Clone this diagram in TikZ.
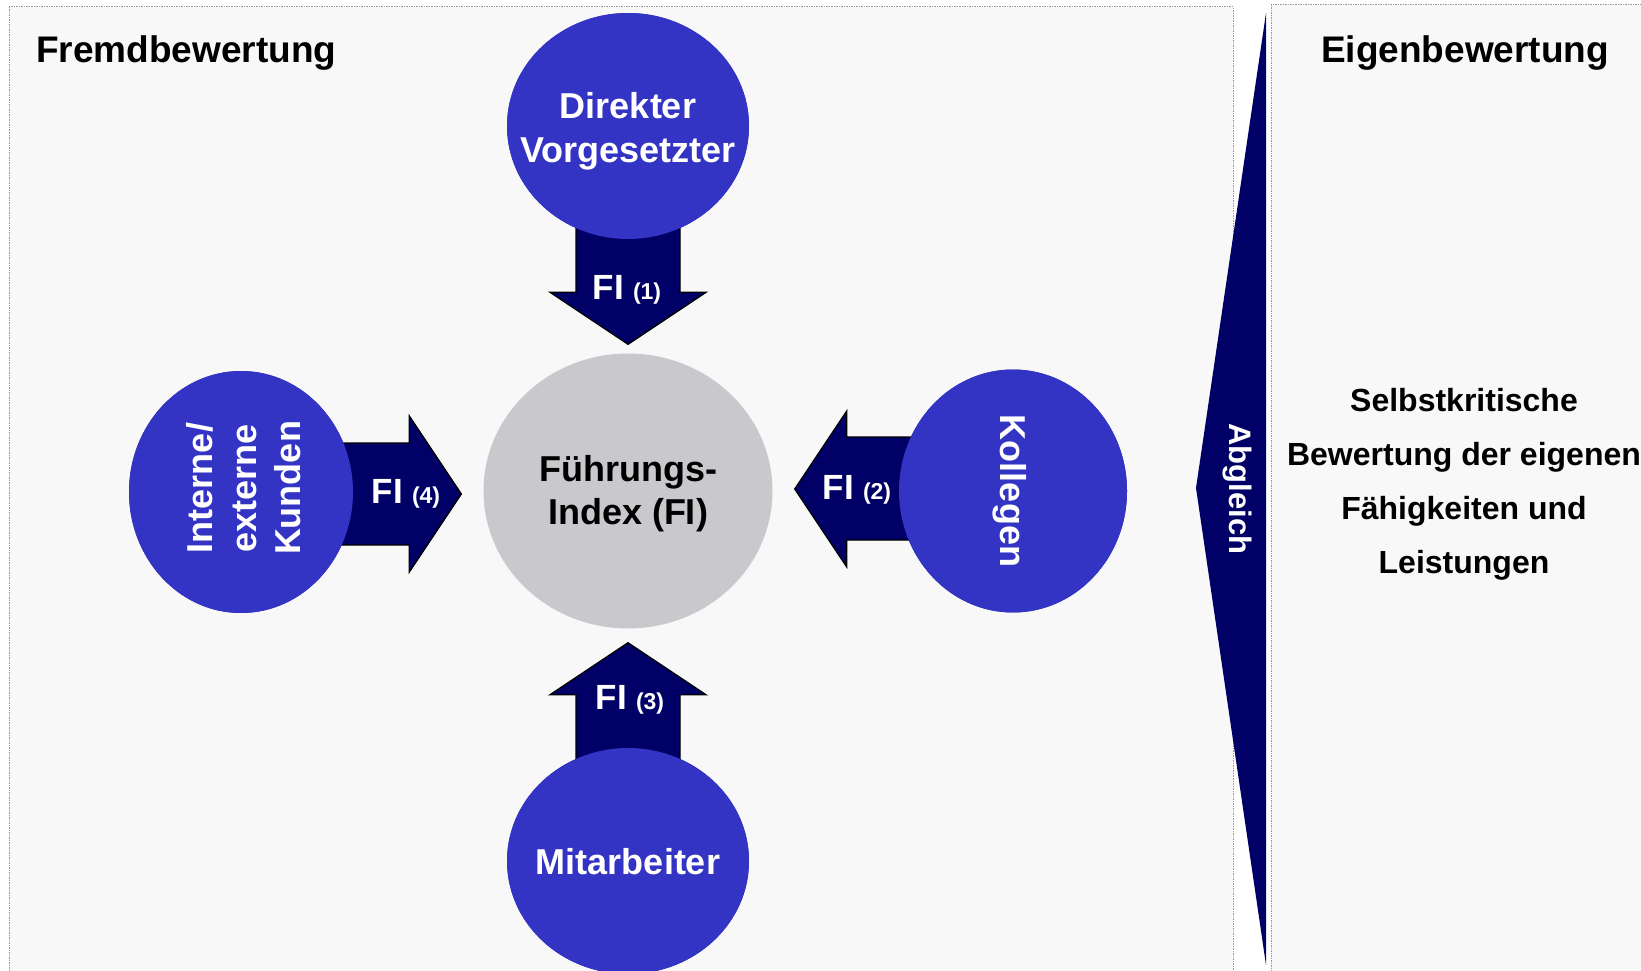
\documentclass[tikz,border=0pt]{standalone}
\usepackage{fontspec}
\setmainfont{Liberation Sans}
\usetikzlibrary{shapes.geometric,calc}
\definecolor{bgbox}{HTML}{F8F8F8}
\definecolor{circblue}{HTML}{3333C4}
\definecolor{navyblue}{HTML}{000066}
\definecolor{figray}{HTML}{C9C9CD}
\definecolor{boxline}{HTML}{9A9A9A}
\newcommand{\filab}[1]{{\fontsize{35}{40}\selectfont FI\hspace{9pt}}{\fontsize{23}{26}\selectfont (#1)}}
\begin{document}
\begin{tikzpicture}[x=1pt,y=-1pt,
  panel/.style={fill=bgbox, draw=boxline, line width=1pt, dash pattern=on 1.5pt off 1pt},
  srcnode/.style={ellipse, fill=circblue, draw=none, inner sep=0pt},
  centnode/.style={ellipse, fill=figray, draw=none, inner sep=0pt},
  srctext/.style={text=white, font=\bfseries\fontsize{36}{44}\selectfont, align=center, inner sep=0pt},
  centtext/.style={text=black, font=\bfseries\fontsize{36}{43}\selectfont, align=center, inner sep=0pt},
  blockarrow/.style={fill=navyblue, draw=black, line width=1.3pt, line join=miter},
  filabel/.style={text=white, font=\bfseries, inner sep=0pt, anchor=base},
  titletext/.style={text=black, font=\bfseries\fontsize{37}{44}\selectfont, inner sep=0pt, anchor=base west},
]
\path[use as bounding box, fill=white] (0,0) rectangle (1641,971);
\clip (0,0) rectangle (1641,971);

% panels
\draw[panel] (9,7) rectangle (1233,995);
\draw[panel] (1271,5) rectangle (1670,995);

% titles
\node[titletext] (fremd) at (36,63) {Fremdbewertung};
\node[titletext] (eigen) at (1321,63) {Eigenbewertung};

% circle nodes (shapes only)
\node[centnode, minimum width=289pt, minimum height=275pt] (fi) at (628,491) {};
\node[srcnode, minimum width=242pt, minimum height=226pt] (vor) at (628,126) {};
\node[srcnode, minimum width=242pt, minimum height=226pt] (mit) at (628,861) {};
\node[srcnode, minimum width=228pt, minimum height=243pt] (kol) at (1013,491) {};
\node[srcnode, minimum width=224pt, minimum height=242pt] (kun) at (241,492) {};

% tips of the block arrows
\coordinate (t1) at ($(fi.north)+(0,-9)$);
\coordinate (t3) at ($(fi.south)+(0,14)$);
\coordinate (t2) at ($(fi.east)+(22,-2)$);
\coordinate (t4) at ($(fi.west)+(-22,3)$);
\coordinate (s1) at (t1 |- vor.center);
\coordinate (s3) at (t3 |- mit.center);
\coordinate (s2) at (t2 -| kol.center);
\coordinate (s4) at (t4 -| kun.center);

% block arrows (behind the source circles)
\draw[blockarrow] ($(s1)+(-52,0)$) -- ($(s1)+(52,0)$) -- ($(t1)+(52,-52)$) -- ($(t1)+(78,-52)$) -- (t1)
  -- ($(t1)+(-78,-52)$) -- ($(t1)+(-52,-52)$) -- cycle;
\draw[blockarrow] ($(s3)+(-52,0)$) -- ($(s3)+(52,0)$) -- ($(t3)+(52,52)$) -- ($(t3)+(78,52)$) -- (t3)
  -- ($(t3)+(-78,52)$) -- ($(t3)+(-52,52)$) -- cycle;
\draw[blockarrow] ($(s2)+(0,-52)$) -- ($(s2)+(0,51)$) -- ($(t2)+(52,51)$) -- ($(t2)+(52,78)$) -- (t2)
  -- ($(t2)+(52,-78)$) -- ($(t2)+(52,-52)$) -- cycle;
\draw[blockarrow] ($(s4)+(0,-51)$) -- ($(s4)+(0,51)$) -- ($(t4)+(-52,51)$) -- ($(t4)+(-52,78)$) -- (t4)
  -- ($(t4)+(-52,-78)$) -- ($(t4)+(-52,-51)$) -- cycle;

% circles on top of arrow shafts
\fill[circblue] (vor.center) ellipse [x radius=121, y radius=113];
\fill[circblue] (mit.center) ellipse [x radius=121, y radius=113];
\fill[circblue] (kol.center) ellipse [x radius=114, y radius=121.5];
\fill[circblue] (kun.center) ellipse [x radius=112, y radius=121];

% circle texts
\node[centtext] (fitext) at (628,494) {Führungs-\\Index (FI)};
\node[srctext] (vortext) at (628,131) {Direkter\\Vorgesetzter};
\node[srctext] (mittext) at (628,862) {Mitarbeiter};
\node[srctext, rotate=-90] (koltext) at (1010,491) {Kollegen};
\node[srctext, rotate=90] (kuntext) at (244,488) {Interne/\\externe\\Kunden};

% FI labels
\node[filabel] (fi1) at (627,299) {\filab{1}};
\node[filabel] (fi3) at (630,709) {\filab{3}};
\node[filabel] (fi2) at (857,499) {\filab{2}};
\node[filabel] (fi4) at (406,503) {\filab{4}};

% Abgleich banner
\fill[navyblue] (1266,13) -- (1196,488) -- (1266,965) -- cycle;
\node[text=white, font=\bfseries\fontsize{31}{36}\selectfont, rotate=-90, inner sep=0pt] (abgl) at (1237,489) {Abgleich};

% self assessment text
\node[text=black, font=\bfseries\fontsize{32}{54}\selectfont, align=center, inner sep=0pt] (selbst) at (1464,484)
  {Selbstkritische\\Bewertung der eigenen\\Fähigkeiten und\\Leistungen};
\end{tikzpicture}
\end{document}
